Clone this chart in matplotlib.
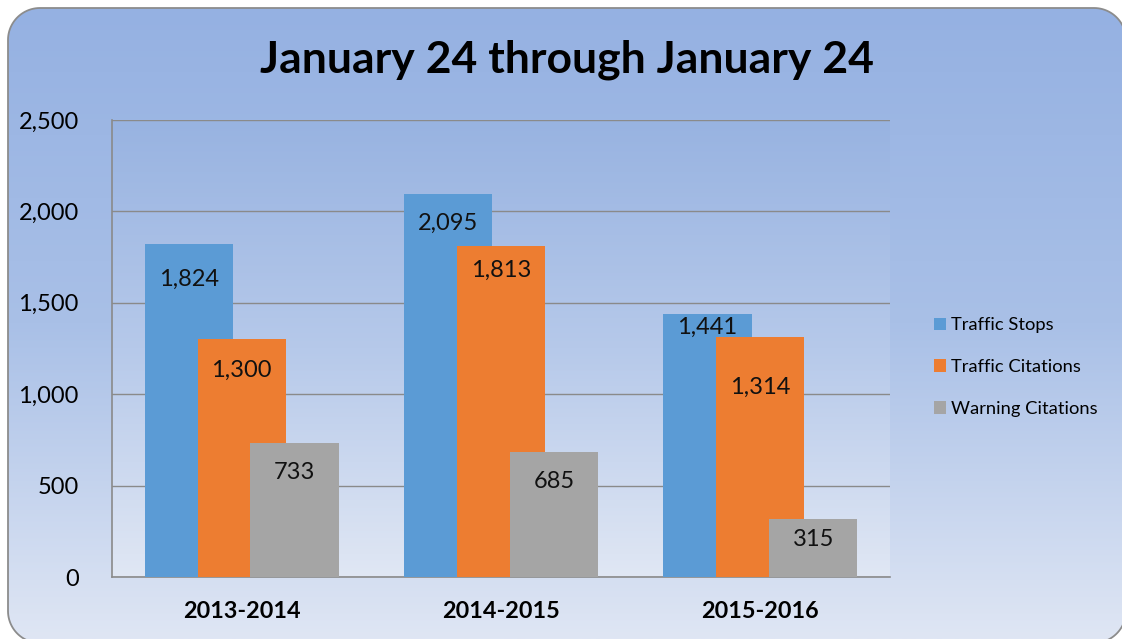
import matplotlib
matplotlib.use("Agg")
import matplotlib.pyplot as plt
import numpy as np
from matplotlib.colors import LinearSegmentedColormap
from matplotlib.patches import Polygon

plt.rcParams["font.family"] = ["Lato", "DejaVu Sans"]

# data
title = "January 24 through January 24"
seasons = ["2013-2014", "2014-2015", "2015-2016"]
series_names = ["Traffic Stops", "Traffic Citations", "Warning Citations"]
traffic_stops = [1824, 2095, 1441]
traffic_citations = [1300, 1813, 1314]
warning_citations = [733, 685, 315]
y_ticks = [0, 500, 1000, 1500, 2000, 2500]

colors = ["#5b9bd5", "#ed7d31", "#a5a5a5"]
# label distance below bar top, in pixels (as placed in the original)
label_drop = [[36, 29, 14], [31, 25, 51], [29, 30, 20]]


def rounded_rect(x0, y0, x1, y1, r, n=24):
    """Polygon vertices of a rounded rectangle (plain line segments)."""
    pts = []
    corners = [(x1 - r, y1 - r, 0), (x0 + r, y1 - r, 90),
               (x0 + r, y0 + r, 180), (x1 - r, y0 + r, 270)]
    for cx, cy, a0 in corners:
        t = np.radians(np.linspace(a0, a0 + 90, n))
        pts.extend(zip(cx + r * np.cos(t), cy + r * np.sin(t)))
    return np.array(pts)


W, H = 1122, 639
fig = plt.figure(figsize=(W / 100, H / 100), dpi=100)

# figure background gradient + rounded border (pixel coordinates, y up)
bg = fig.add_axes([0, 0, 1, 1], zorder=-10)
cmap_bg = LinearSegmentedColormap.from_list("bg", ["#dfe6f4", "#a9c0e7", "#95b1e2"])
grad = np.linspace(0, 1, 256).reshape(-1, 1)
im = bg.imshow(grad, cmap=cmap_bg, origin="lower", aspect="auto",
               extent=[0, W, 0, H - 8])
box = Polygon(rounded_rect(8, -4, 1126, H - 8, 32), closed=True,
              facecolor="none", edgecolor="#8c8c8c", linewidth=1.3, clip_on=False)
bg.add_patch(box)
im.set_clip_path(box)
bg.set_xlim(0, W)
bg.set_ylim(0, H)
bg.axis("off")

ax = fig.add_axes([112 / W, 1 - 577 / H, 778 / W, 457 / H])
ax.patch.set_visible(False)
cmap_pa = LinearSegmentedColormap.from_list("pa", ["#e0e7f4", "#b6c9ea", "#98b3e1"])
ax.imshow(grad, cmap=cmap_pa, origin="lower", aspect="auto",
          extent=[0, 1, 0, 1], transform=ax.transAxes, zorder=0)

x = np.arange(len(seasons))
width = 0.34
step = 0.204
all_series = [traffic_stops, traffic_citations, warning_citations]
for i, (vals, name, c) in enumerate(zip(all_series, series_names, colors)):
    pos = x + (i - 1) * step
    ax.bar(pos, vals, width=width, color=c, label=name, zorder=3 + i)
    for j, v in enumerate(vals):
        ax.annotate(f"{v:,}", (pos[j], v), xytext=(0, -label_drop[i][j] * 0.72),
                    textcoords="offset points", ha="center", va="center",
                    fontsize=17, color="#111111", zorder=10)

ax.set_xlim(-0.5, 2.5)
ax.set_ylim(0, 2500)
ax.set_yticks(y_ticks)
ax.set_yticklabels([f"{t:,}" for t in y_ticks], fontsize=17)
ax.set_xticks(x)
ax.set_xticklabels(seasons, fontsize=16.8, fontweight="bold")
ax.tick_params(length=0)
ax.tick_params(axis="y", pad=24)
ax.tick_params(axis="x", pad=17)
ax.yaxis.grid(True, color="#8a8a8a", linewidth=1, zorder=1)
ax.set_axisbelow(True)
for s in ["top", "right"]:
    ax.spines[s].set_visible(False)
for s in ["left", "bottom"]:
    ax.spines[s].set_color("#8a8a8a")
    ax.spines[s].set_linewidth(1.2)

fig.text(567 / W, 1 - 60 / H, title, fontsize=32, fontweight="bold",
         ha="center", va="center")

handles, labels = ax.get_legend_handles_labels()
leg = fig.legend(handles, labels, loc="center left",
                 bbox_to_anchor=(917 / W, 1 - 367 / H),
                 frameon=False, fontsize=13.2, handlelength=0.7, handleheight=0.7,
                 handletextpad=0.25, labelspacing=1.4)

fig.savefig("out.png", dpi=100)
